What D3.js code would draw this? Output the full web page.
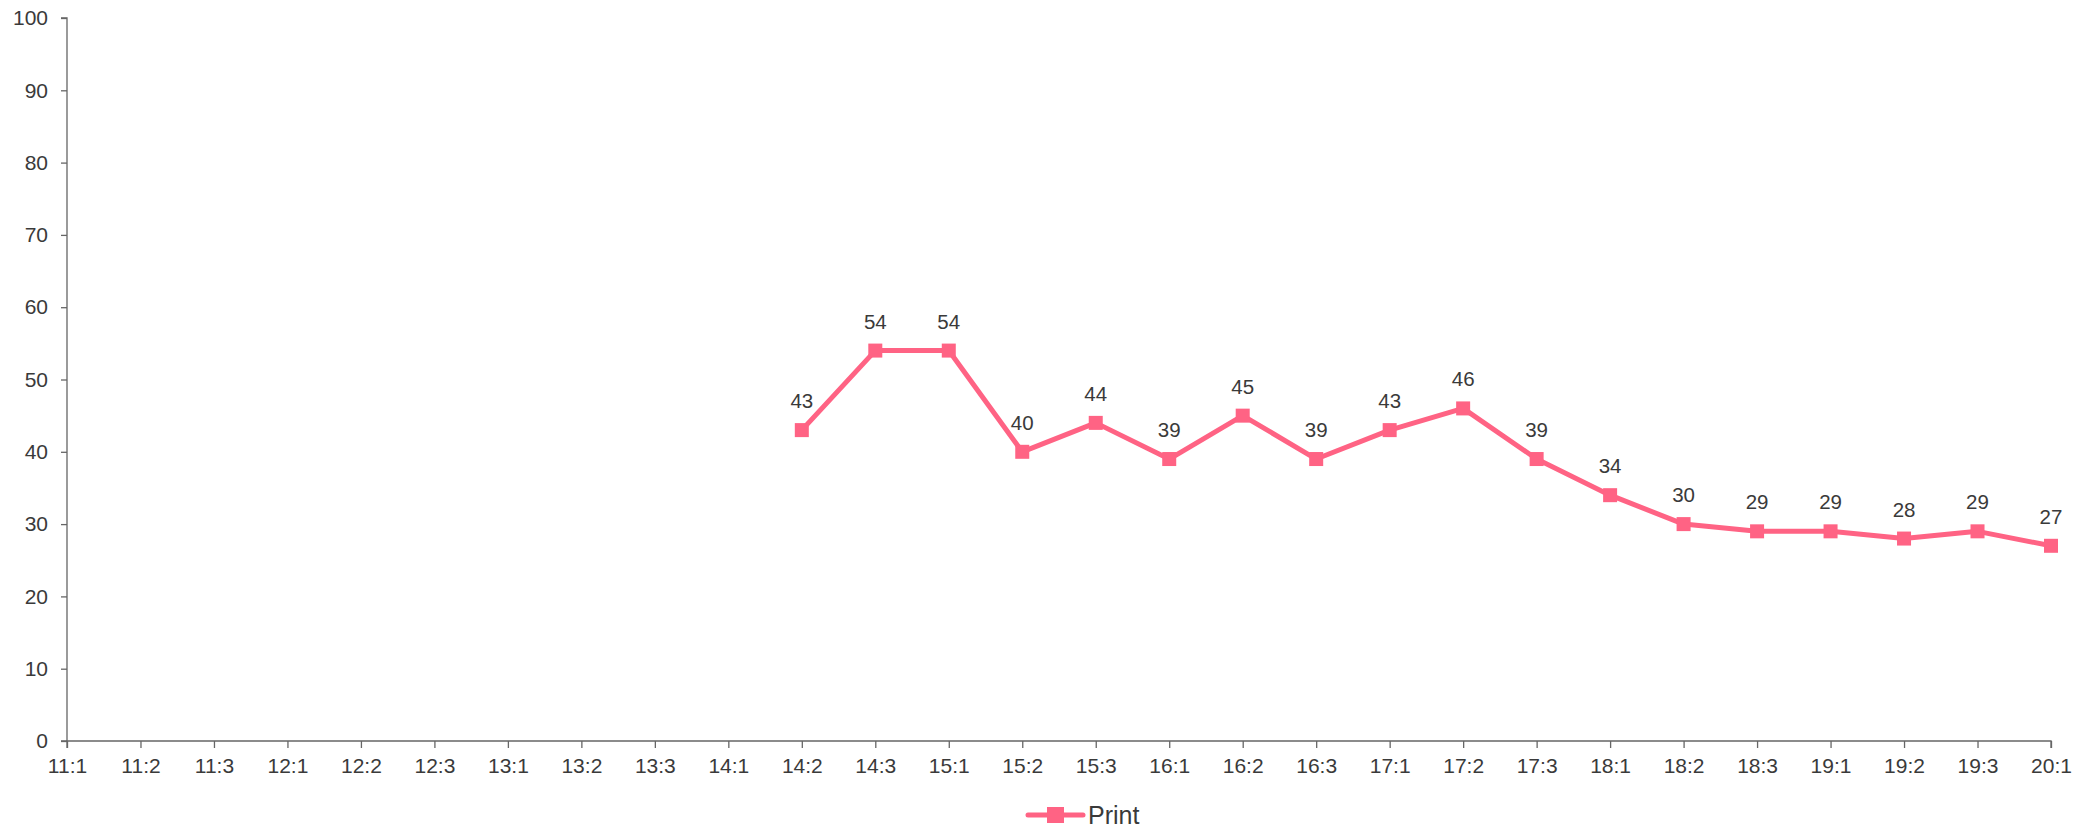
<!DOCTYPE html>
<html><head><meta charset="utf-8">
<script src="https://cdn.jsdelivr.net/npm/d3@7"></script>
<style>body{margin:0;background:#fff}svg{display:block}text{font-family:"Liberation Sans",Arial,sans-serif}</style>
</head><body>
<svg id="c" width="2073" height="828"></svg>
<script>
const categories = ["11:1","11:2","11:3","12:1","12:2","12:3","13:1","13:2","13:3","14:1","14:2","14:3","15:1","15:2","15:3","16:1","16:2","16:3","17:1","17:2","17:3","18:1","18:2","18:3","19:1","19:2","19:3","20:1"];
const printValues = [null,null,null,null,null,null,null,null,null,null,43,54,54,40,44,39,45,39,43,46,39,34,30,29,29,28,29,27];
const yTicks = [0,10,20,30,40,50,60,70,80,90,100];
const seriesName = "Print";
const color = "#ff6384";

(function(){
const svg = d3.select("#c");
const pl = 67, pr = 2051, pt = 18, pb = 741;
const x = d3.scalePoint().domain(categories).range([pl, pr]);
const y = d3.scaleLinear().domain([0,100]).range([pb, pt]);

const ya = svg.append("g").attr("transform",`translate(${pl},0)`)
  .call(d3.axisLeft(y).tickValues(yTicks).tickSize(6).tickPadding(13));
const xa = svg.append("g").attr("transform",`translate(0,${pb})`)
  .call(d3.axisBottom(x).tickSize(7).tickPadding(10));
[ya,xa].forEach(a=>{
  a.selectAll("path,line").attr("stroke","#666").attr("stroke-width",1.3);
  a.selectAll("text").attr("fill","#3a3a3a").style("font-size","21px");
});
ya.select(".domain").attr("d",`M-6,${pt}H0V${pb}H-6`);
xa.select(".domain").attr("d",`M${pl},7V0H${pr}V7`);

const pts = categories.map((c,i)=>({c, v: printValues[i]})).filter(d=>d.v!=null);
svg.append("path").datum(pts)
  .attr("fill","none").attr("stroke",color).attr("stroke-width",5).attr("stroke-linejoin","round")
  .attr("d", d3.line().x(d=>x(d.c)).y(d=>y(d.v)));
svg.selectAll("rect.m").data(pts).enter().append("rect")
  .attr("x",d=>x(d.c)-7).attr("y",d=>y(d.v)-7).attr("width",14).attr("height",14).attr("fill",color);
svg.selectAll("text.l").data(pts).enter().append("text")
  .attr("x",d=>x(d.c)).attr("y",d=>y(d.v)-22).attr("text-anchor","middle")
  .attr("fill","#3a3a3a").style("font-size","20.5px").text(d=>d.v);

const lg = svg.append("g").attr("transform","translate(1028,815)");
lg.append("line").attr("x1",0).attr("x2",55).attr("y1",0).attr("y2",0).attr("stroke",color).attr("stroke-width",5).attr("stroke-linecap","round");
lg.append("rect").attr("x",19).attr("y",-8).attr("width",17).attr("height",16).attr("fill",color);
lg.append("text").attr("x",60).attr("y",9).attr("fill","#3a3a3a").style("font-size","25px").text(seriesName);
})();
</script>
</body></html>
